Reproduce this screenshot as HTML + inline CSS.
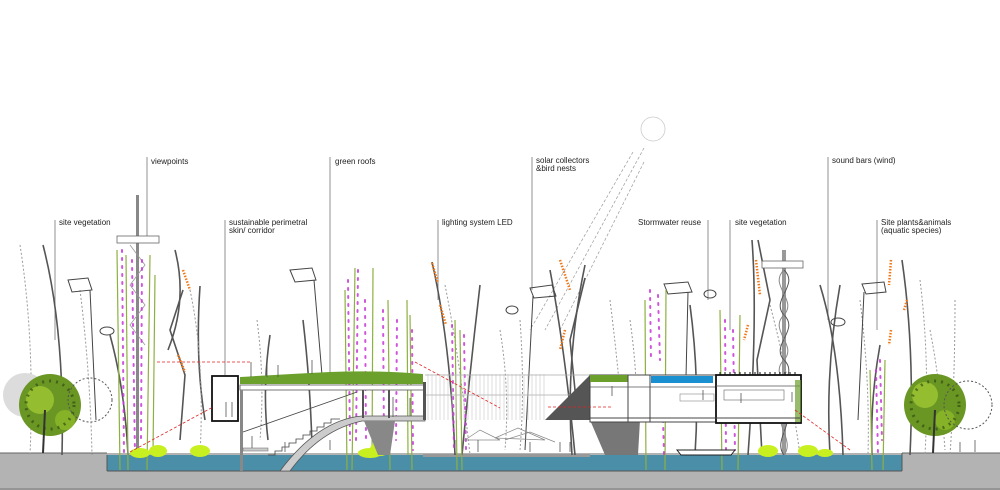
<!DOCTYPE html>
<html><head><meta charset="utf-8">
<style>
html,body{margin:0;padding:0;background:#fff;}
svg{display:block;}
text{font-family:"Liberation Sans",sans-serif;font-size:8px;fill:#222;}
</style></head>
<body>
<svg width="1000" height="490" viewBox="0 0 1000 490" xmlns="http://www.w3.org/2000/svg">
<circle cx="653" cy="129" r="12" fill="none" stroke="#ccc" stroke-width="0.8"/>
<g stroke="#999" stroke-width="0.7" stroke-dasharray="3,2" fill="none">
<line x1="633" y1="152" x2="530" y2="330"/><line x1="644" y1="148" x2="545" y2="330"/><line x1="644" y1="162" x2="560" y2="330"/>
</g>
<g stroke="#777" stroke-width="0.8">
<line x1="147" y1="157" x2="147" y2="240"/>
<line x1="55" y1="220" x2="55" y2="340"/>
<line x1="225" y1="220" x2="225" y2="375"/>
<line x1="330" y1="157" x2="330" y2="375"/>
<line x1="438" y1="220" x2="438" y2="300"/>
<line x1="532" y1="157" x2="532" y2="290"/>
<line x1="708" y1="220" x2="708" y2="300"/>
<line x1="730" y1="220" x2="730" y2="330"/>
<line x1="828" y1="157" x2="828" y2="320"/>
<line x1="877" y1="220" x2="877" y2="330"/>
</g>
<text x="151" y="164">viewpoints</text>
<text x="59" y="225">site vegetation</text>
<text x="229" y="225">sustainable perimetral</text>
<text x="229" y="233">skin/ corridor</text>
<text x="335" y="164">green roofs</text>
<text x="442" y="225">lighting system LED</text>
<text x="536" y="163">solar collectors</text>
<text x="536" y="171">&amp;bird nests</text>
<text x="638" y="225">Stormwater reuse</text>
<text x="735" y="225">site vegetation</text>
<text x="832" y="163">sound bars (wind)</text>
<text x="881" y="225">Site plants&amp;animals</text>
<text x="881" y="233">(aquatic species)</text>

<rect x="0" y="453" width="1000" height="37" fill="#b3b3b3"/>
<line x1="0" y1="453" x2="107" y2="453" stroke="#666" stroke-width="1"/>
<line x1="902" y1="453" x2="1000" y2="453" stroke="#666" stroke-width="1"/>
<rect x="107" y="455" width="795" height="16" fill="#4a8ea8"/>
<line x1="107" y1="471" x2="902" y2="471" stroke="#555" stroke-width="1"/>
<line x1="107" y1="455" x2="107" y2="471" stroke="#555"/>
<line x1="902" y1="453" x2="902" y2="471" stroke="#555"/>
<line x1="0" y1="489" x2="1000" y2="489" stroke="#777"/>
<rect x="423" y="454" width="167" height="3" fill="#999"/>

<g fill="none" stroke="#555" stroke-width="1.6">
<path d="M43 245 Q65 330 62 455"/><path d="M110 335 Q125 390 128 455"/>
<path d="M175 250 Q188 300 168 350"/><path d="M200 286 Q195 360 205 420"/>
<path d="M303 320 Q310 380 312 445"/><path d="M270 335 Q262 390 268 440"/>
<path d="M432 262 Q450 340 455 455"/><path d="M480 285 Q470 370 462 455"/>
<path d="M550 270 Q565 350 575 455"/><path d="M585 265 Q565 360 572 455"/>
<path d="M690 305 Q700 380 695 455"/><path d="M752 240 Q758 320 748 455"/>
<path d="M820 285 Q840 350 843 455"/><path d="M840 285 Q825 370 830 455"/>
<path d="M902 260 Q915 350 910 455"/><path d="M880 345 Q870 400 872 455"/>
<path d="M183 290 L170 330 L185 375 L180 440"/><path d="M585 278 L570 340 L578 420"/>
<path d="M758 240 L770 300 L757 360 L762 455"/>
</g>
<g fill="none" stroke="#999" stroke-width="1" stroke-dasharray="2,2">
<path d="M20 245 Q35 340 30 455"/><path d="M80 290 Q90 370 92 455"/>
<path d="M190 290 Q205 360 200 455"/><path d="M257 320 Q265 380 260 440"/>
<path d="M445 285 Q460 360 470 455"/><path d="M610 300 Q620 380 625 455"/>
<path d="M770 305 Q790 380 800 455"/><path d="M860 300 Q870 380 868 455"/>
<path d="M920 280 Q930 360 925 455"/><path d="M955 300 Q955 380 950 455"/>
<path d="M500 330 Q510 390 505 450"/><path d="M520 320 Q525 390 520 450"/>
<path d="M930 330 Q940 380 945 450"/><path d="M630 320 Q640 390 635 450"/>
</g>
<g stroke="#f07818" stroke-width="2.5" stroke-dasharray="1.5,1.5">
<line x1="183" y1="270" x2="190" y2="290"/><line x1="178" y1="355" x2="185" y2="372"/>
<line x1="432" y1="263" x2="438" y2="283"/><line x1="440" y1="305" x2="446" y2="325"/>
<line x1="560" y1="260" x2="570" y2="290"/><line x1="565" y1="330" x2="560" y2="350"/>
<line x1="756" y1="260" x2="760" y2="295"/><line x1="748" y1="325" x2="744" y2="340"/>
<line x1="891" y1="260" x2="889" y2="285"/><line x1="891" y1="330" x2="889" y2="345"/>
<line x1="907" y1="300" x2="904" y2="310"/>
</g>
<g fill="none" stroke="#444" stroke-width="1">
<path d="M68 280 L88 278 L92 290 L72 292 Z"/><path d="M90 290 L96 420"/>
<path d="M290 270 L312 268 L316 280 L295 282 Z"/><path d="M314 280 L322 375"/>
<path d="M530 288 L552 285 L556 296 L534 298 Z"/><path d="M533 296 L525 450"/>
<path d="M664 284 L688 282 L692 292 L668 294 Z"/><path d="M688 292 L685 420"/>
<path d="M862 284 L884 282 L886 292 L866 294 Z"/><path d="M864 292 L858 420"/>
<ellipse cx="107" cy="331" rx="7" ry="4"/><ellipse cx="512" cy="310" rx="6" ry="4"/>
<ellipse cx="710" cy="294" rx="6" ry="4"/><ellipse cx="838" cy="322" rx="7" ry="4"/>
</g>
<rect x="136" y="195" width="3" height="260" fill="#888"/>
<rect x="117" y="236" width="42" height="7" fill="#fff" stroke="#666" stroke-width="0.8"/>
<path d="M130 245 L145 265 L130 285 L145 305 L130 325 L145 345" fill="none" stroke="#999" stroke-width="0.8"/>
<rect x="782" y="250" width="4" height="205" fill="#999"/>
<rect x="762" y="261" width="41" height="7" fill="#fff" stroke="#666" stroke-width="0.8"/>
<path d="M784 270 C800 285 770 300 784 315 C800 330 770 345 784 360 C800 375 770 390 784 405 C798 420 772 440 784 455" fill="none" stroke="#555" stroke-width="1"/>
<path d="M784 270 C768 285 798 300 784 315 C768 330 798 345 784 360 C768 375 798 390 784 405 C770 420 796 440 784 455" fill="none" stroke="#888" stroke-width="1"/>

<g stroke="#8db040" stroke-width="1.2">
<line x1="117" y1="250" x2="120" y2="470"/><line x1="126" y1="255" x2="128" y2="470"/>
<line x1="150" y1="255" x2="147" y2="470"/><line x1="155" y1="275" x2="153" y2="455"/>
<line x1="345" y1="290" x2="347" y2="470"/><line x1="355" y1="268" x2="352" y2="470"/>
<line x1="373" y1="268" x2="372" y2="455"/><line x1="388" y1="300" x2="390" y2="470"/>
<line x1="407" y1="300" x2="408" y2="455"/><line x1="410" y1="315" x2="412" y2="470"/>
<line x1="455" y1="320" x2="457" y2="470"/><line x1="460" y1="330" x2="462" y2="470"/>
<line x1="645" y1="300" x2="646" y2="470"/><line x1="666" y1="290" x2="665" y2="470"/>
<line x1="720" y1="310" x2="722" y2="470"/><line x1="740" y1="315" x2="738" y2="470"/>
<line x1="870" y1="370" x2="872" y2="470"/><line x1="885" y1="360" x2="883" y2="470"/>
</g>
<g stroke="#c838d8" stroke-width="2" stroke-dasharray="2,6" stroke-linecap="round" opacity="0.85">
<line x1="122" y1="250" x2="124" y2="455"/><line x1="132" y1="260" x2="135" y2="455"/>
<line x1="142" y1="260" x2="141" y2="440"/><line x1="348" y1="280" x2="350" y2="440"/>
<line x1="358" y1="270" x2="356" y2="440"/><line x1="365" y1="300" x2="366" y2="440"/>
<line x1="383" y1="310" x2="384" y2="440"/><line x1="397" y1="320" x2="396" y2="440"/>
<line x1="412" y1="330" x2="413" y2="450"/><line x1="452" y1="325" x2="454" y2="450"/>
<line x1="464" y1="335" x2="466" y2="450"/><line x1="650" y1="290" x2="651" y2="360"/>
<line x1="658" y1="295" x2="660" y2="360"/><line x1="663" y1="420" x2="664" y2="455"/>
<line x1="725" y1="320" x2="726" y2="450"/><line x1="733" y1="330" x2="735" y2="450"/>
<line x1="876" y1="370" x2="878" y2="455"/><line x1="880" y1="360" x2="882" y2="440"/>
<line x1="215" y1="380" x2="218" y2="418"/>
</g>

<g>
<circle cx="25" cy="395" r="22" fill="#dcdcdc"/>
<circle cx="50" cy="405" r="31" fill="#6a9624"/>
<circle cx="40" cy="400" r="14" fill="#b0d838" opacity="0.6"/>
<circle cx="65" cy="420" r="10" fill="#9ac42a" opacity="0.6"/>
<circle cx="50" cy="405" r="24" fill="none" stroke="#2a4010" stroke-width="3" stroke-dasharray="2,5" opacity="0.6"/>
<circle cx="90" cy="400" r="22" fill="none" stroke="#555" stroke-width="1" stroke-dasharray="2,2"/>
<line x1="45" y1="410" x2="43" y2="453" stroke="#333" stroke-width="2"/>
<circle cx="935" cy="405" r="31" fill="#6a9624"/>
<circle cx="925" cy="395" r="13" fill="#b0d838" opacity="0.6"/>
<circle cx="945" cy="420" r="10" fill="#9ac42a" opacity="0.6"/>
<circle cx="935" cy="405" r="24" fill="none" stroke="#2a4010" stroke-width="3" stroke-dasharray="2,5" opacity="0.6"/>
<circle cx="968" cy="405" r="24" fill="none" stroke="#555" stroke-width="1" stroke-dasharray="2,2"/>
<line x1="935" y1="410" x2="933" y2="453" stroke="#333" stroke-width="2"/>
</g>
<g fill="#c8f020">
<ellipse cx="140" cy="453" rx="10" ry="5"/><ellipse cx="158" cy="451" rx="9" ry="6"/>
<ellipse cx="200" cy="451" rx="10" ry="6"/><ellipse cx="370" cy="453" rx="12" ry="5"/><ellipse cx="380" cy="449" rx="10" ry="7"/>
<ellipse cx="768" cy="451" rx="10" ry="6"/><ellipse cx="808" cy="451" rx="10" ry="6"/><ellipse cx="825" cy="453" rx="8" ry="4"/>
</g>

<g stroke="#aaa" stroke-width="0.7">
<line x1="425" y1="375" x2="590" y2="375"/>
<line x1="425" y1="395" x2="590" y2="395"/>
</g>
<g stroke="#bbb" stroke-width="0.5">
<path d="M428 374V420M432 374V420M436 374V420M440 374V420M444 374V420M448 374V420M452 374V420M456 374V420M460 374V420M464 374V420M468 374V420M472 374V420M476 374V420M480 374V420M484 374V420M488 374V420M492 374V420M496 374V420M500 374V420M504 374V420M508 374V420M512 374V420M516 374V420M520 374V420M524 374V420M528 374V420M532 374V420M536 374V420M540 374V420M544 374V420"/>
</g>
<g fill="none" stroke="#888" stroke-width="0.7">
<path d="M465 440 L480 430 L500 440 Z"/><path d="M495 438 L518 428 L545 440 Z"/><path d="M505 440 L530 432 L555 442"/>
</g>

<rect x="212" y="376" width="26" height="45" fill="#fff" stroke="#111" stroke-width="1.8"/>
<rect x="240" y="385" width="185" height="5" fill="#fff" stroke="#555" stroke-width="0.8"/>
<path d="M240 384 L240 377 Q290 374 330 372 Q380 370 423 374 L423 384 Z" fill="#6ba02c"/>
<rect x="240" y="390" width="3" height="81" fill="#888"/>
<line x1="243" y1="432" x2="357" y2="392" stroke="#444" stroke-width="0.8"/>
<path d="M362 416 L425 416 L425 421 L362 421 Q320 430 290 471 L280 471 Q318 420 362 416 Z" fill="#ccc" stroke="#555" stroke-width="0.8"/>
<path d="M268 455 L275 455 L275 451 L282 451 L282 447 L289 447 L289 443 L296 443 L296 439 L303 439 L303 435 L310 435 L310 431 L317 431 L317 427 L324 427 L324 423 L331 423 L331 419 L340 419" fill="none" stroke="#444" stroke-width="0.8"/>
<rect x="243" y="448" width="25" height="3" fill="#ccc" stroke="#666" stroke-width="0.5"/>
<rect x="362" y="390" width="2" height="28" fill="#555"/><rect x="388" y="390" width="2" height="28" fill="#555"/>
<rect x="423" y="382" width="3" height="38" fill="#555"/>
<path d="M364 421 L395 421 L390 455 L378 455 Z" fill="#888"/>

<path d="M545 420 L590 375 L590 420 Z" fill="#555"/>
<path d="M590 420 L640 420 L638 455 L605 455 Z" fill="#777"/>

<rect x="590" y="375" width="60" height="47" fill="#fff" stroke="#444" stroke-width="1"/>
<rect x="590" y="375" width="38" height="7" fill="#6ba02c"/>
<rect x="628" y="375" width="22" height="47" fill="#fff" stroke="#444" stroke-width="1"/>
<rect x="650" y="375" width="66" height="47" fill="#fff" stroke="#444" stroke-width="1"/>
<rect x="651" y="376" width="62" height="7" fill="#1a90d0"/>
<line x1="590" y1="387" x2="716" y2="387" stroke="#555" stroke-width="0.8"/>
<rect x="716" y="375" width="85" height="48" fill="#fff" stroke="#111" stroke-width="1.8"/>
<path d="M720 375v-3M725 375v-3M730 375v-3M735 375v-3M740 375v-3M745 375v-3M750 375v-3M755 375v-3M760 375v-3M765 375v-3M770 375v-3M775 375v-3M780 375v-3M785 375v-3M790 375v-3M795 375v-3" stroke="#111" stroke-width="1"/>
<line x1="716" y1="386" x2="801" y2="386" stroke="#555" stroke-width="0.8"/>
<rect x="724" y="390" width="60" height="10" fill="none" stroke="#666" stroke-width="0.6"/>
<rect x="680" y="394" width="34" height="7" fill="none" stroke="#888" stroke-width="0.6"/>
<rect x="795" y="380" width="6" height="42" fill="#6ba02c" opacity="0.7"/>
<line x1="590" y1="418" x2="800" y2="418" stroke="#444" stroke-width="1"/>
<path d="M677 450 L735 450 L731 455 L681 455 Z" fill="#fff" stroke="#222" stroke-width="1"/>

<g stroke="#e02020" stroke-width="0.8" stroke-dasharray="3,2" fill="none">
<line x1="157" y1="362" x2="250" y2="362"/>
<line x1="130" y1="452" x2="213" y2="407"/>
<line x1="415" y1="362" x2="500" y2="408"/>
<line x1="548" y1="407" x2="612" y2="407"/>
<line x1="795" y1="410" x2="850" y2="450"/>
</g>
<g fill="none" stroke="#555" stroke-width="0.8">
<path d="M251 362v15M267 365v12M278 365v12M312 360v14M393 397v20M410 398v18M226 402v15M232 402v15M252 448v-12M612 396v-10M703 390v10M741 393v10M792 392v10"/>
<path d="M285 452v-10M330 450v-10M455 452v-12M478 452v-12M530 452v-10M560 452v-10M570 452v-10M960 452v-10M975 452v-12"/>
</g>
</svg>
</body></html>
